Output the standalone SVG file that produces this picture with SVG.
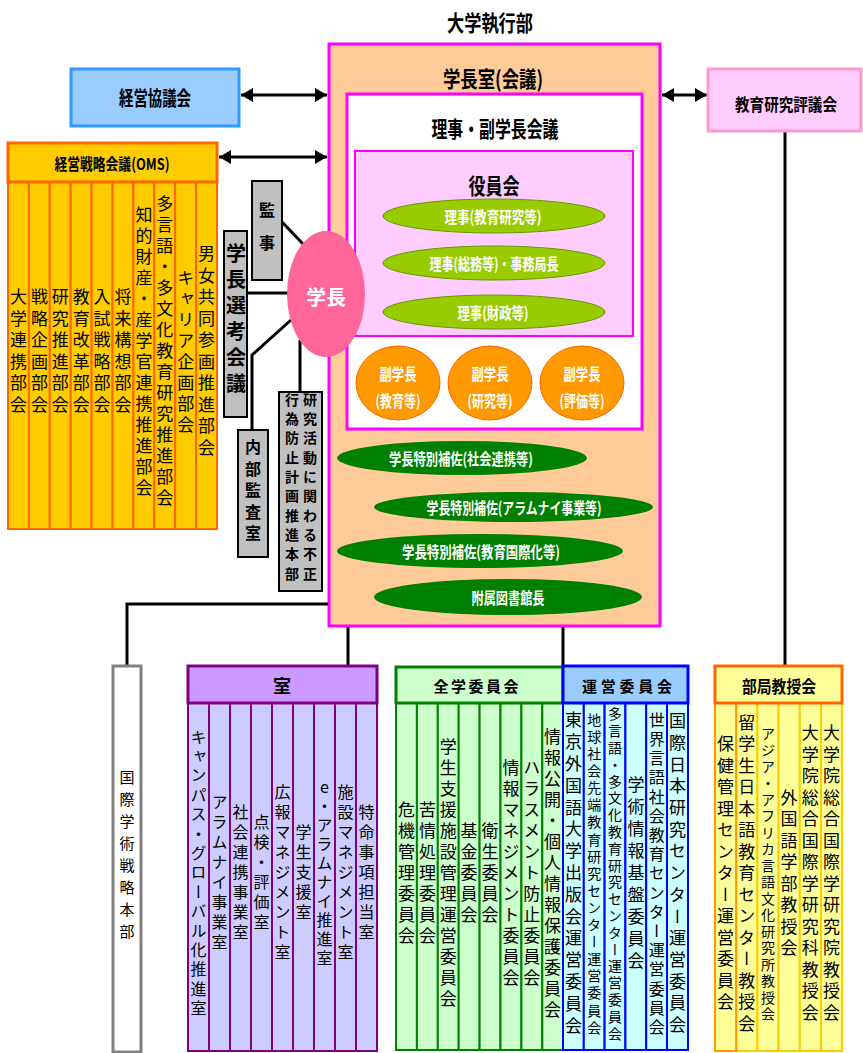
<svg xmlns="http://www.w3.org/2000/svg" width="863" height="1053" viewBox="0 0 863 1053">
<defs>
<style>
text{font-family:"Noto Sans CJK JP","Noto Sans CJK SC",sans-serif;}
.h{font-weight:700;text-anchor:middle;dominant-baseline:central;fill:#000}
.w{font-weight:700;text-anchor:middle;dominant-baseline:central;fill:#fff}
.v{writing-mode:vertical-rl;text-orientation:upright;text-anchor:middle;fill:#000}
.vb{writing-mode:vertical-rl;text-orientation:upright;text-anchor:middle;font-weight:700;fill:#000}
.cn{fill:none;stroke:#000;stroke-width:3}
.gray{fill:#C0C0C0;stroke:#000;stroke-width:2}
.oms{fill:#FFCC00;stroke:#FF6600;stroke-width:2}
.shitsu{fill:#CCCCFF;stroke:#800080;stroke-width:2}
.zen{fill:#CCFFCC;stroke:#008000;stroke-width:2}
.un{fill:#CCFFFF;stroke:#0000FF;stroke-width:2}
.bu{fill:#FFFF99;stroke:#FFCC00;stroke-width:2}
.lg{fill:#99CC00;stroke:#669900;stroke-width:1}
.dg{fill:#008000}
.og{fill:#FF9900;stroke:#FF6600;stroke-width:1}
</style>
<marker id="ah" viewBox="0 0 12 14" refX="12" refY="7" markerWidth="12" markerHeight="14" markerUnits="userSpaceOnUse" orient="auto-start-reverse"><path d="M0,0 L12,7 L0,14 Z" fill="#000"/></marker>
</defs>
<rect width="863" height="1053" fill="#fff"/>

<g id="title"><text class="h" x="490" y="21" font-size="22" textLength="86" lengthAdjust="spacingAndGlyphs">大学執行部</text></g>

<g id="gakuchoshitsu">
<rect x="329" y="44" width="331" height="582" fill="#FFCC99" stroke="#FF00FF" stroke-width="3"/>
<text class="h" x="493" y="77" font-size="22" textLength="100" lengthAdjust="spacingAndGlyphs">学長室(会議)</text>
</g>
<g id="riji-fukugakucho">
<rect x="347" y="94" width="295" height="335" fill="#fff" stroke="#FF00FF" stroke-width="3"/>
<text class="h" x="495" y="127" font-size="22" textLength="127" lengthAdjust="spacingAndGlyphs">理事・副学長会議</text>
</g>
<g id="yakuinkai">
<rect x="355" y="151" width="278" height="185" fill="#FFCCFF" stroke="#FF00FF" stroke-width="2"/>
<text class="h" x="494" y="184" font-size="22" textLength="51" lengthAdjust="spacingAndGlyphs">役員会</text>
</g>
<g id="riji1"><ellipse class="lg" cx="494" cy="216" rx="111" ry="17"/><text class="w" x="493" y="216" font-size="16" textLength="97" lengthAdjust="spacingAndGlyphs">理事(教育研究等)</text></g>
<g id="riji2"><ellipse class="lg" cx="494" cy="263" rx="111" ry="17"/><text class="w" x="494" y="263" font-size="16" textLength="129" lengthAdjust="spacingAndGlyphs">理事(総務等)・事務局長</text></g>
<g id="riji3"><ellipse class="lg" cx="494" cy="312" rx="111" ry="17"/><text class="w" x="493" y="312" font-size="16" textLength="71" lengthAdjust="spacingAndGlyphs">理事(財政等)</text></g>

<g id="fuku1"><ellipse class="og" cx="398" cy="383" rx="42" ry="37"/><text class="w" x="398" y="373" font-size="16" textLength="37" lengthAdjust="spacingAndGlyphs">副学長</text><text class="w" x="398" y="400" font-size="16" textLength="45" lengthAdjust="spacingAndGlyphs">(教育等)</text></g>
<g id="fuku2"><ellipse class="og" cx="490" cy="383" rx="42" ry="37"/><text class="w" x="490" y="373" font-size="16" textLength="37" lengthAdjust="spacingAndGlyphs">副学長</text><text class="w" x="490" y="400" font-size="16" textLength="45" lengthAdjust="spacingAndGlyphs">(研究等)</text></g>
<g id="fuku3"><ellipse class="og" cx="582" cy="383" rx="42" ry="37"/><text class="w" x="582" y="373" font-size="16" textLength="37" lengthAdjust="spacingAndGlyphs">副学長</text><text class="w" x="582" y="400" font-size="16" textLength="45" lengthAdjust="spacingAndGlyphs">(評価等)</text></g>

<g id="hosa1"><ellipse class="dg" cx="462" cy="458" rx="125" ry="17"/><text class="w" x="461" y="458" font-size="16" textLength="144" lengthAdjust="spacingAndGlyphs">学長特別補佐(社会連携等)</text></g>
<g id="hosa2"><ellipse class="dg" cx="513.5" cy="507" rx="139.5" ry="15"/><text class="w" x="514" y="507" font-size="16" textLength="175" lengthAdjust="spacingAndGlyphs">学長特別補佐(アラムナイ事業等)</text></g>
<g id="hosa3"><ellipse class="dg" cx="480" cy="551" rx="143" ry="17"/><text class="w" x="481" y="551" font-size="16" textLength="158" lengthAdjust="spacingAndGlyphs">学長特別補佐(教育国際化等)</text></g>
<g id="toshokan"><ellipse class="dg" cx="508" cy="597" rx="134" ry="18"/><text class="w" x="508" y="597" font-size="16" textLength="73" lengthAdjust="spacingAndGlyphs">附属図書館長</text></g>

<g id="connectors">
<line class="cn" x1="241" y1="95" x2="327" y2="95" marker-start="url(#ah)" marker-end="url(#ah)"/>
<line class="cn" x1="219" y1="157" x2="327" y2="157" marker-start="url(#ah)" marker-end="url(#ah)"/>
<line class="cn" x1="662" y1="95" x2="707" y2="95" marker-start="url(#ah)" marker-end="url(#ah)"/>
<line class="cn" x1="282" y1="222" x2="304" y2="245"/>
<line class="cn" x1="247" y1="293" x2="289" y2="293"/>
<polyline class="cn" points="291,320 252,355 252,430"/>
<line class="cn" x1="300" y1="340" x2="300" y2="392"/>
<polyline class="cn" points="328,604 127,604 127,666"/>
<line class="cn" x1="348" y1="627" x2="348" y2="666"/>
<line class="cn" x1="563" y1="627" x2="563" y2="666"/>
<line class="cn" x1="785" y1="131" x2="785" y2="666"/>
</g>

<g id="gakucho"><ellipse cx="326" cy="294" rx="39" ry="63" fill="#FF6699"/><text class="w" x="326" y="296" font-size="20">学長</text></g>

<g id="kanji"><rect class="gray" x="252" y="181" width="30" height="99"/><text class="vb" x="267" y="235" font-size="16" letter-spacing="17">監事</text></g>
<g id="senko"><rect class="gray" x="224" y="231" width="23" height="186"/><text class="vb" x="236" y="321" font-size="20" letter-spacing="6">学長選考会議</text></g>
<g id="naibu"><rect class="gray" x="238" y="430" width="30" height="127"/><text class="vb" x="253" y="493" font-size="16" letter-spacing="5.5">内部監査室</text></g>
<g id="fusei"><rect class="gray" x="279" y="392" width="43" height="199"/><text class="vb" x="310" y="489" font-size="14" letter-spacing="5.3">研究活動に関わる不正</text><text class="vb" x="292" y="489" font-size="14" letter-spacing="5.3">行為防止計画推進本部</text></g>

<g id="keiei"><rect x="71" y="69" width="168" height="57" fill="#99CCFF" stroke="#3399FF" stroke-width="3"/><text class="h" x="155" y="97" font-size="20" textLength="72" lengthAdjust="spacingAndGlyphs">経営協議会</text></g>

<g id="kyoiku-hyogi"><rect x="708" y="69" width="153" height="62" fill="#FFCCFF" stroke="#FF99CC" stroke-width="3"/><text class="h" x="786" y="103" font-size="17" textLength="102" lengthAdjust="spacingAndGlyphs">教育研究評議会</text></g>

<g id="oms">
<rect x="8" y="182" width="20.9" height="347" class="oms"/>
<rect x="28.9" y="182" width="20.9" height="347" class="oms"/>
<rect x="49.8" y="182" width="20.9" height="347" class="oms"/>
<rect x="70.7" y="182" width="20.9" height="347" class="oms"/>
<rect x="91.6" y="182" width="20.9" height="347" class="oms"/>
<rect x="112.5" y="182" width="20.9" height="347" class="oms"/>
<rect x="133.4" y="182" width="20.9" height="347" class="oms"/>
<rect x="154.3" y="182" width="20.9" height="347" class="oms"/>
<rect x="175.2" y="182" width="20.9" height="347" class="oms"/>
<rect x="196.1" y="182" width="20.9" height="347" class="oms"/>
<rect x="8" y="143" width="209" height="39" fill="#FFCC00" stroke="#FF6600" stroke-width="3"/>
<text class="h" x="112" y="163" font-size="16" textLength="115" lengthAdjust="spacingAndGlyphs">経営戦略会議(OMS)</text>
<text class="v" x="18.5" y="353" font-size="17" letter-spacing="4.5">大学連携部会</text>
<text class="v" x="39.4" y="353" font-size="17" letter-spacing="4.5">戦略企画部会</text>
<text class="v" x="60.3" y="353" font-size="17" letter-spacing="4.5">研究推進部会</text>
<text class="v" x="81.2" y="353" font-size="17" letter-spacing="4.5">教育改革部会</text>
<text class="v" x="102.1" y="353" font-size="17" letter-spacing="4.5">入試戦略部会</text>
<text class="v" x="123" y="353" font-size="17" letter-spacing="4.5">将来構想部会</text>
<text class="v" x="143.9" y="353" font-size="17" letter-spacing="4">知的財産・産学官連携推進部会</text>
<text class="v" x="164.8" y="353" font-size="17" letter-spacing="4">多言語・多文化教育研究推進部会</text>
<text class="v" x="185.7" y="353" font-size="17" letter-spacing="4">キャリア企画部会</text>
<text class="v" x="206.6" y="353" font-size="17" letter-spacing="4.5">男女共同参画推進部会</text>
</g>

<g id="kokusai-gakujutsu"><rect x="113" y="666" width="28" height="386" fill="#fff" stroke="#808080" stroke-width="3"/><text class="v" x="127" y="858" font-size="15" letter-spacing="7">国際学術戦略本部</text></g>

<g id="shitsu">
<rect class="shitsu" x="188" y="703" width="21" height="348"/>
<rect class="shitsu" x="209" y="703" width="21" height="348"/>
<rect class="shitsu" x="230" y="703" width="21" height="348"/>
<rect class="shitsu" x="251" y="703" width="21" height="348"/>
<rect class="shitsu" x="272" y="703" width="21" height="348"/>
<rect class="shitsu" x="293" y="703" width="21" height="348"/>
<rect class="shitsu" x="314" y="703" width="21" height="348"/>
<rect class="shitsu" x="335" y="703" width="21" height="348"/>
<rect class="shitsu" x="356" y="703" width="21" height="348"/>
<rect x="188" y="666" width="189" height="37" fill="#CC99FF" stroke="#800080" stroke-width="3"/>
<text class="h" x="282" y="685" font-size="18">室</text>
<text class="v" x="198.5" y="874" font-size="16" letter-spacing="3.4">キャンパス・グローバル化推進室</text>
<text class="v" x="219.5" y="874" font-size="16" letter-spacing="4">アラムナイ事業室</text>
<text class="v" x="240.5" y="874" font-size="16" letter-spacing="4">社会連携事業室</text>
<text class="v" x="261.5" y="874" font-size="16" letter-spacing="4">点検・評価室</text>
<text class="v" x="282.5" y="874" font-size="16" letter-spacing="4">広報マネジメント室</text>
<text class="v" x="303.5" y="874" font-size="16" letter-spacing="4">学生支援室</text>
<text class="v" x="324.5" y="874" font-size="16" letter-spacing="3">e・アラムナイ推進室</text>
<text class="v" x="345.5" y="874" font-size="16" letter-spacing="4">施設マネジメント室</text>
<text class="v" x="366.5" y="874" font-size="16" letter-spacing="4">特命事項担当室</text>
</g>

<g id="zengaku">
<rect class="zen" x="396" y="703" width="20.9" height="347"/>
<rect class="zen" x="416.9" y="703" width="20.9" height="347"/>
<rect class="zen" x="437.8" y="703" width="20.9" height="347"/>
<rect class="zen" x="458.7" y="703" width="20.9" height="347"/>
<rect class="zen" x="479.6" y="703" width="20.9" height="347"/>
<rect class="zen" x="500.5" y="703" width="20.9" height="347"/>
<rect class="zen" x="521.4" y="703" width="20.9" height="347"/>
<rect class="zen" x="542.3" y="703" width="20.7" height="347"/>
<rect x="396" y="667" width="167" height="36" fill="#CCFFCC" stroke="#008000" stroke-width="3"/>
<text class="h" x="476" y="685" font-size="15" textLength="85" lengthAdjust="spacing">全学委員会</text>
<text class="v" x="406.5" y="875" font-size="17" letter-spacing="4">危機管理委員会</text>
<text class="v" x="427.4" y="875" font-size="17" letter-spacing="4">苦情処理委員会</text>
<text class="v" x="448.3" y="875" font-size="17" letter-spacing="4">学生支援施設管理運営委員会</text>
<text class="v" x="469.1" y="875" font-size="17" letter-spacing="4">基金委員会</text>
<text class="v" x="490" y="875" font-size="17" letter-spacing="4">衛生委員会</text>
<text class="v" x="510.9" y="875" font-size="17" letter-spacing="4">情報マネジメント委員会</text>
<text class="v" x="531.8" y="875" font-size="17" letter-spacing="4">ハラスメント防止委員会</text>
<text class="v" x="552.6" y="875" font-size="17" letter-spacing="4">情報公開・個人情報保護委員会</text>
</g>

<g id="unei">
<rect class="un" x="563" y="703" width="20.8" height="347"/>
<rect class="un" x="583.8" y="703" width="20.8" height="347"/>
<rect class="un" x="604.6" y="703" width="20.8" height="347"/>
<rect class="un" x="625.4" y="703" width="20.8" height="347"/>
<rect class="un" x="646.2" y="703" width="20.8" height="347"/>
<rect class="un" x="667" y="703" width="21" height="347"/>
<rect x="563" y="666" width="125" height="37" fill="#99CCFF" stroke="#0000FF" stroke-width="3"/>
<text class="h" x="627" y="685" font-size="15" textLength="90" lengthAdjust="spacing">運営委員会</text>
<text class="v" x="573.4" y="875" font-size="17" letter-spacing="4.8">東京外国語大学出版会運営委員会</text>
<text class="v" x="594.2" y="875" font-size="14" letter-spacing="3.1">地球社会先端教育研究センター運営委員会</text>
<text class="v" x="615.1" y="875" font-size="14" letter-spacing="2.8">多言語・多文化教育研究センター運営委員会</text>
<text class="v" x="635.9" y="875" font-size="17" letter-spacing="4.9">学術情報基盤委員会</text>
<text class="v" x="656.7" y="875" font-size="16" letter-spacing="3.2">世界言語社会教育センター運営委員会</text>
<text class="v" x="677.6" y="875" font-size="17" letter-spacing="4.7">国際日本研究センター運営委員会</text>
</g>

<g id="bukyoku">
<rect class="bu" x="715" y="703" width="21.2" height="348"/>
<rect class="bu" x="736.2" y="703" width="21.2" height="348"/>
<rect class="bu" x="757.4" y="703" width="21.2" height="348"/>
<rect class="bu" x="778.6" y="703" width="21.2" height="348"/>
<rect class="bu" x="799.8" y="703" width="21.2" height="348"/>
<rect class="bu" x="821" y="703" width="21" height="348"/>
<rect x="715" y="703" width="21.2" height="348" fill="none" stroke="#FF9900" stroke-width="2"/>
<rect x="715" y="666" width="127" height="37" fill="#FFFF99" stroke="#FF6600" stroke-width="3"/>
<text class="h" x="779" y="685" font-size="17" textLength="74" lengthAdjust="spacingAndGlyphs">部局教授会</text>
<text class="v" x="725.6" y="875" font-size="17" letter-spacing="4.5">保健管理センター運営委員会</text>
<text class="v" x="746.8" y="875" font-size="17" letter-spacing="4.5">留学生日本語教育センター教授会</text>
<text class="v" x="768" y="875" font-size="14" letter-spacing="2.5">アジア・アフリカ言語文化研究所教授会</text>
<text class="v" x="789.1" y="875" font-size="17" letter-spacing="4.5">外国語学部教授会</text>
<text class="v" x="810.3" y="875" font-size="17" letter-spacing="4.5">大学院総合国際学研究科教授会</text>
<text class="v" x="831.5" y="875" font-size="17" letter-spacing="4.5">大学院総合国際学研究院教授会</text>
</g>
</svg>
